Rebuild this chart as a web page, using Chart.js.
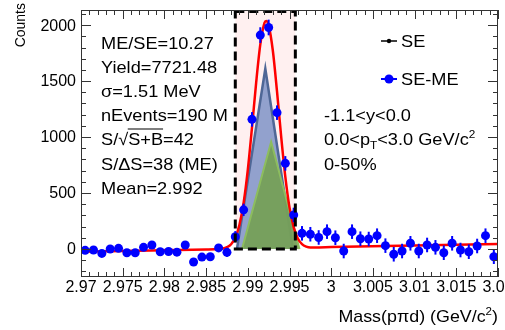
<!DOCTYPE html>
<html>
<head>
<meta charset="utf-8">
<script src="https://cdn.jsdelivr.net/npm/chart.js@4/dist/chart.umd.min.js"></script>
<style>
  html, body { margin: 0; padding: 0; background: #fff; }
  #wrap { position: relative; width: 505px; height: 330px; font-family: "Liberation Sans", Arial, sans-serif; color: #000; }
  #c { position: absolute; left: 0; top: 0; }
  .t { position: absolute; font-size: 17px; line-height: 1; white-space: nowrap; transform-origin: left center; transform: translateY(-50%) scaleX(1.07); }
  .ov { border-top: 1.4px solid #000; }
  sub, sup { font-size: 11px; line-height: 0; }
</style>
</head>
<body>
<div id="wrap">
  <canvas id="c" width="505" height="330"></canvas>
  <div class="t" style="left:101px;top:42.5px">ME/SE=10.27</div>
  <div class="t" style="left:101px;top:66.7px">Yield=7721.48</div>
  <div class="t" style="left:101px;top:90.9px">σ=1.51 MeV</div>
  <div class="t" style="left:101px;top:115.1px">nEvents=190 M</div>
  <div class="t" style="left:101px;top:139.3px">S/√<span class="ov">S+B</span>=42</div>
  <div class="t" style="left:101px;top:163.5px">S/ΔS=38 (ME)</div>
  <div class="t" style="left:101px;top:187.7px">Mean=2.992</div>
  <div class="t" style="left:324px;top:115.1px">-1.1&lt;y&lt;0.0</div>
  <div class="t" style="left:324px;top:139.3px">0.0&lt;p<sub>T</sub>&lt;3.0 GeV/c<sup>2</sup></div>
  <div class="t" style="left:324px;top:163.5px">0-50%</div>
  <div class="t" style="left:401px;top:41px">SE</div>
  <div class="t" style="left:401px;top:79px">SE-ME</div>
  <div class="t" style="left:auto;right:7px;top:316px;transform-origin:right center;transform:translateY(-50%) scaleX(1.05)">Mass(pπd) (GeV/c<sup>2</sup>)</div>
</div>
<script>
// SE-ME invariant mass spectrum, bin centres in GeV/c^2
const massBins = [
  2.9705, 2.9715, 2.9725, 2.9735, 2.9745, 2.9755, 2.9765, 2.9775, 2.9785, 2.9795,
  2.9805, 2.9815, 2.9825, 2.9835, 2.9845, 2.9855, 2.9865, 2.9875, 2.9885, 2.9895,
  2.9905, 2.9915, 2.9925, 2.9935, 2.9945, 2.9955, 2.9965, 2.9975, 2.9985, 2.9995,
  3.0005, 3.0015, 3.0025, 3.0035, 3.0045, 3.0055, 3.0065, 3.0075, 3.0085, 3.0095,
  3.0105, 3.0115, 3.0125, 3.0135, 3.0145, 3.0155, 3.0165, 3.0175, 3.0185, 3.0195
];
const seMeCounts = [
  -12, -9, -39, 0, 6, -33, -33, 15, 36, -24,
  -22, -28, 36, -116, -72, -69, 10, -30, 110, 350,
  1158, 1911, 1979, 1218, 765, 304, 140, 132, 103, 155,
  101, -18, 155, 92, 89, 119, 30, -47, -18, 51,
  -18, 36, 15, -33, 51, -9, -24, 27, 119, -69
];
const seMeErrors = [
  30, 30, 30, 30, 30, 30, 30, 30, 30, 30,
  30, 30, 30, 30, 30, 30, 35, 40, 50, 55,
  65, 70, 70, 65, 65, 65, 65, 65, 65, 65,
  65, 65, 65, 65, 65, 65, 65, 65, 65, 65,
  65, 65, 65, 65, 65, 65, 65, 65, 65, 65
];

// fit curve (gaus + pol1)
const fitMass = [
  2.970, 2.980, 2.985, 2.986, 2.987, 2.9875, 2.988, 2.9885, 2.989, 2.9895,
  2.990, 2.9905, 2.991, 2.9915, 2.992, 2.9922, 2.9925, 2.993, 2.9935, 2.994,
  2.9945, 2.995, 2.9955, 2.996, 2.9965, 2.997, 2.9975, 2.998, 3.000, 3.010, 3.020
];
const fitCounts = [
  -25, -11, -4, -2, 4, 16, 43, 103, 217, 413,
  706, 1082, 1485, 1828, 2020, 2036, 1998, 1773, 1410, 1006,
  645, 372, 196, 94, 44, 22, 14, 14, 17, 31, 45
];

// triangles (signal template shapes)
const blueTriMass = [2.9887, 2.9921, 2.9954];
const blueTriCounts = [0, 1610, 0];
const greenTriMass = [2.9893, 2.9928, 2.9962];
const greenTriCounts = [0, 958, 0];

// mass window
const windowLo = 2.9885;
const windowHi = 2.9957;

const xTickValues = [2.97, 2.975, 2.98, 2.985, 2.99, 2.995, 3.0, 3.005, 3.01, 3.015, 3.02];
const xTickLabels = ['2.97', '2.975', '2.98', '2.985', '2.99', '2.995', '3', '3.005', '3.01', '3.015', '3.02'];
const yTickValues = [0, 500, 1000, 1500, 2000];
const yTickLabels = ['0', '500', '1000', '1500', '2000'];

const toXY = (xs, ys) => xs.map((x, i) => ({ x: x, y: ys[i] }));

const rootFrame = {
  id: 'rootFrame',
  beforeDatasetsDraw(chart) {
    const { ctx, scales: { x, y }, chartArea: a } = chart;
    const x0 = x.getPixelForValue(windowLo);
    const x1 = x.getPixelForValue(windowHi);
    const yb = y.getPixelForValue(0);
    ctx.save();
    ctx.fillStyle = 'rgba(255, 0, 0, 0.06)';
    ctx.fillRect(x0, a.top, x1 - x0, yb - a.top);
    ctx.restore();
  },
  beforeDatasetDraw(chart, args) {
    if (args.index !== 0) return;
    const { ctx, scales: { x, y } } = chart;
    ctx.save();
    ctx.strokeStyle = '#0000ff';
    ctx.lineWidth = 2;
    massBins.forEach((m, i) => {
      const px = x.getPixelForValue(m);
      ctx.beginPath();
      ctx.moveTo(px, y.getPixelForValue(seMeCounts[i] - seMeErrors[i]));
      ctx.lineTo(px, y.getPixelForValue(seMeCounts[i] + seMeErrors[i]));
      ctx.stroke();
    });
    ctx.restore();
  },
  afterDatasetsDraw(chart) {
    const { ctx, scales: { x, y }, chartArea: a } = chart;
    ctx.save();

    // dashed signal window
    const x0 = x.getPixelForValue(windowLo);
    const x1 = x.getPixelForValue(windowHi);
    const yb = y.getPixelForValue(0);
    ctx.strokeStyle = '#000';
    ctx.lineWidth = 3;
    ctx.setLineDash([9, 5]);
    ctx.strokeRect(x0, a.top + 1.5, x1 - x0, yb - a.top - 1.5);
    ctx.setLineDash([]);

    // frame
    ctx.strokeStyle = '#333';
    ctx.lineWidth = 1;
    ctx.strokeRect(a.left + 0.5, a.top + 0.5, a.right - a.left - 1, a.bottom - a.top - 1);

    // x ticks, bottom and top, pointing inward
    ctx.beginPath();
    for (let k = 0; k <= 50; k++) {
      const v = 2.97 + k * 0.001;
      const px = Math.round(x.getPixelForValue(v)) + 0.5;
      const len = k % 5 === 0 ? 9 : 5;
      ctx.moveTo(px, a.bottom); ctx.lineTo(px, a.bottom - len);
      ctx.moveTo(px, a.top); ctx.lineTo(px, a.top + len);
    }
    // y ticks, left and right
    for (let v = -200; v <= 2100; v += 100) {
      const py = Math.round(y.getPixelForValue(v)) + 0.5;
      const len = v % 500 === 0 ? 10 : 5;
      ctx.moveTo(a.left, py); ctx.lineTo(a.left + len, py);
      ctx.moveTo(a.right, py); ctx.lineTo(a.right - len, py);
    }
    ctx.stroke();

    // tick labels
    ctx.fillStyle = '#000';
    ctx.font = '16px "Liberation Sans", Arial, sans-serif';
    ctx.textAlign = 'center';
    ctx.textBaseline = 'middle';
    xTickValues.forEach((v, i) => {
      ctx.fillText(xTickLabels[i], x.getPixelForValue(v), 288);
    });
    ctx.textAlign = 'right';
    yTickValues.forEach((v, i) => {
      ctx.fillText(yTickLabels[i], a.left - 5, y.getPixelForValue(v) + 1);
    });

    // y axis title
    ctx.save();
    ctx.translate(21, 3);
    ctx.rotate(-Math.PI / 2);
    ctx.font = '14px "Liberation Sans", Arial, sans-serif';
    ctx.textAlign = 'right';
    ctx.textBaseline = 'middle';
    ctx.fillText('Counts', 0, 0);
    ctx.restore();

    // legend markers
    ctx.strokeStyle = '#000';
    ctx.lineWidth = 1.5;
    ctx.beginPath(); ctx.moveTo(381, 41); ctx.lineTo(397, 41); ctx.stroke();
    ctx.fillStyle = '#000';
    ctx.beginPath(); ctx.arc(389, 41, 2.2, 0, Math.PI * 2); ctx.fill();
    ctx.strokeStyle = '#0000ff';
    ctx.lineWidth = 2;
    ctx.beginPath(); ctx.moveTo(381, 79); ctx.lineTo(397, 79); ctx.stroke();
    ctx.fillStyle = '#0000ff';
    ctx.beginPath(); ctx.arc(389, 79, 4.5, 0, Math.PI * 2); ctx.fill();

    ctx.restore();
  }
};

const ctx = document.getElementById('c').getContext('2d');
new Chart(ctx, {
  type: 'scatter',
  data: {
    datasets: [
      {
        label: 'SE-ME',
        data: toXY(massBins, seMeCounts),
        showLine: false,
        pointRadius: 4.5,
        pointBackgroundColor: '#0000ff',
        pointBorderWidth: 0,
        order: 0,
      },
      {
        label: 'fit',
        data: toXY(fitMass, fitCounts),
        showLine: true,
        borderColor: '#ff0000',
        borderWidth: 2.5,
        pointRadius: 0,
        cubicInterpolationMode: 'monotone',
        order: 1,
      },
      {
        label: 'green',
        data: toXY(greenTriMass, greenTriCounts),
        showLine: true,
        fill: 'origin',
        backgroundColor: 'rgba(118, 160, 88, 0.95)',
        borderColor: '#8dbd5e',
        borderWidth: 2,
        pointRadius: 0,
        order: 2,
      },
      {
        label: 'blue',
        data: toXY(blueTriMass, blueTriCounts),
        showLine: true,
        fill: 'origin',
        backgroundColor: 'rgba(140, 156, 202, 0.95)',
        borderColor: '#4f6796',
        borderWidth: 2.5,
        pointRadius: 0,
        order: 3,
      },
    ],
  },
  options: {
    responsive: false,
    animation: false,
    layout: { padding: { left: 81, top: 10, right: 7, bottom: 53 } },
    scales: {
      x: { type: 'linear', min: 2.97, max: 3.02, display: false },
      y: { type: 'linear', min: -250, max: 2135, display: false },
    },
    plugins: {
      legend: { display: false },
      tooltip: { enabled: false },
    },
  },
  plugins: [rootFrame],
});
</script>
</body>
</html>
